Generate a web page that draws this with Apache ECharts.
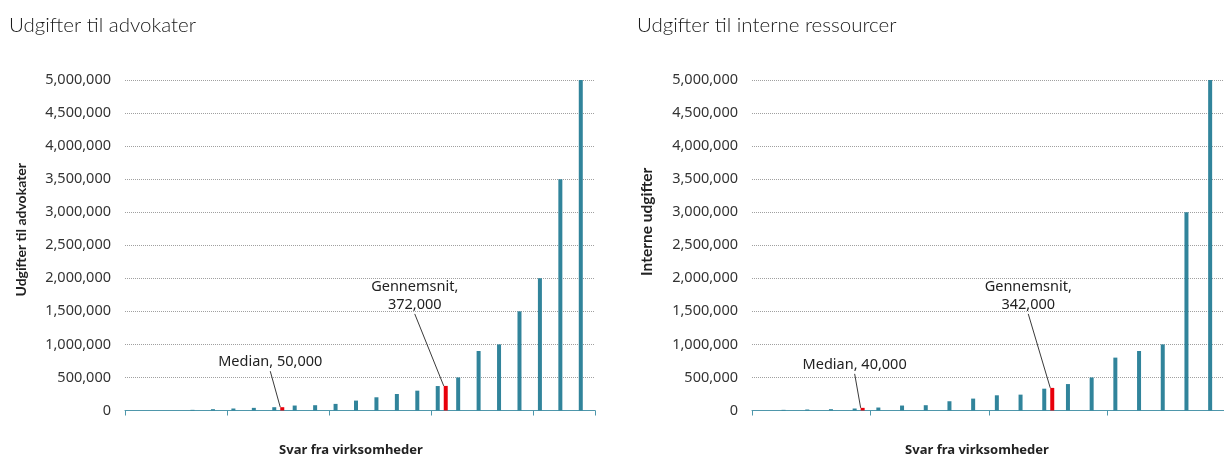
<!DOCTYPE html>
<html>
<head>
<meta charset="utf-8">
<script src="https://cdn.jsdelivr.net/npm/echarts@6/dist/echarts.min.js"></script>
<style>
html,body{margin:0;padding:0;background:#fff;}
#chart{width:1224px;height:455px;}
</style>
</head>
<body>
<div id="chart"></div>
<script>
// ---- data ----
const titleLeft = 'Udgifter til advokater';
const titleRight = 'Udgifter til interne ressourcer';
const yNameLeft = 'Udgifter til advokater';
const yNameRight = 'Interne udgifter';
const xName = 'Svar fra virksomheder';

const lawyerCategories = ['1','2','3','4','5','6','7','8','9','10','11','12','13','14','15','16','17','18','19','20','21','22','23'];
const lawyerValues = [0, 0, 0, 10000, 20000, 30000, 40000, 50000, 75000, 80000, 100000, 150000, 200000, 250000, 300000, 370000, 500000, 900000, 1000000, 1500000, 2000000, 3500000, 5000000];
const lawyerMedianIndex = 7, lawyerMedian = 50000;
const lawyerMeanIndex = 15, lawyerMean = 372000;

const internalCategories = ['1','2','3','4','5','6','7','8','9','10','11','12','13','14','15','16','17','18','19','20'];
const internalValues = [0, 10000, 15000, 20000, 30000, 45000, 75000, 80000, 140000, 180000, 230000, 240000, 330000, 400000, 500000, 800000, 900000, 1000000, 3000000, 5000000];
const internalMedianIndex = 4, internalMedian = 40000;
const internalMeanIndex = 12, internalMean = 342000;

const yTicks = [0, 500000, 1000000, 1500000, 2000000, 2500000, 3000000, 3500000, 4000000, 4500000, 5000000];

// ---- styling ----
const BLUE = '#31849B';
const RED = '#E8000B';
const AXIS = '#4F97AB';
const FONT = 'Noto Sans';
const fmt = v => v.toLocaleString('en-US');

function markerData(n, medIdx, medVal, meanIdx, meanVal) {
  const arr = new Array(n).fill(null);
  const lbl = {show: true, position: 'top', distance: 4, color: '#222', fontFamily: FONT, fontSize: 14.5, lineHeight: 18, align: 'center'};
  arr[medIdx] = {value: medVal, label: Object.assign({}, lbl, {formatter: 'Median, ' + fmt(medVal)})};
  arr[meanIdx] = {value: meanVal, label: Object.assign({}, lbl, {formatter: 'Gennemsnit,\n' + fmt(meanVal)})};
  return arr;
}

function xAxis(idx, cats, shift) {
  return {
    type: 'category', gridIndex: idx, data: cats,
    name: xName, nameLocation: 'middle', nameGap: 33,
    nameTextStyle: {fontFamily: FONT, fontSize: 13, fontWeight: 'bold', color: '#222', padding: [0, shift, 0, 0]},
    axisLine: {lineStyle: {color: AXIS, width: 1}},
    axisTick: {show: true, interval: 4, length: 5, lineStyle: {color: AXIS}},
    axisLabel: {show: false},
    splitLine: {show: false}
  };
}
function yAxis(idx, name, shift, size) {
  return {
    type: 'value', gridIndex: idx, min: 0, max: yTicks[yTicks.length - 1], interval: yTicks[1] - yTicks[0],
    name: name, nameLocation: 'middle', nameRotate: 90, nameGap: 97,
    nameTextStyle: {fontFamily: 'Lato', fontSize: size, fontWeight: 'bold', color: '#222', padding: [0, 0, 0, shift]},
    axisLine: {show: false}, axisTick: {show: false},
    axisLabel: {fontFamily: FONT, fontSize: 14.5, color: '#333', margin: 14, formatter: v => fmt(v)},
    splitLine: {lineStyle: {color: '#a0a0a0', type: [1, 1], width: 1}}
  };
}

const labelOffsets = {
  // [seriesIndex]: {dataIndex: [dx, dy]}
  1: {[lawyerMedianIndex]: [-12, -32], [lawyerMeanIndex]: [-31, -68]},
  3: {[internalMedianIndex]: [-8, -30], [internalMeanIndex]: [-24, -70]}
};

const option = {
  animation: false,
  backgroundColor: '#fff',
  title: [
    {text: titleLeft, left: 4, top: 10, textStyle: {fontFamily: 'Lato', fontWeight: 300, fontSize: 20.5, color: '#1a1a1a'}},
    {text: titleRight, left: 632, top: 10, textStyle: {fontFamily: 'Lato', fontWeight: 300, fontSize: 20.5, color: '#1a1a1a'}}
  ],
  grid: [
    {left: 125, top: 80, width: 470, height: 330.5, outerBoundsMode: 'none', containLabel: false},
    {left: 752, top: 80, width: 474, height: 330.5, outerBoundsMode: 'none', containLabel: false}
  ],
  xAxis: [xAxis(0, lawyerCategories, 18), xAxis(1, internalCategories, 24)],
  yAxis: [yAxis(0, yNameLeft, 31, 14), yAxis(1, yNameRight, 47, 15.5)],
  series: [
    {type: 'bar', xAxisIndex: 0, yAxisIndex: 0, data: lawyerValues, barWidth: 4, barGap: '100%', itemStyle: {color: BLUE}},
    {type: 'bar', xAxisIndex: 0, yAxisIndex: 0, data: markerData(lawyerCategories.length, lawyerMedianIndex, lawyerMedian, lawyerMeanIndex, lawyerMean),
      barWidth: 4, barGap: '100%', itemStyle: {color: RED},
      labelLine: {show: true, lineStyle: {color: '#3a3a3a', width: 1}},
      labelLayout: p => { const o = labelOffsets[1][p.dataIndex]; return o ? {dx: o[0], dy: o[1]} : {}; }},
    {type: 'bar', xAxisIndex: 1, yAxisIndex: 1, data: internalValues, barWidth: 4, barGap: '100%', itemStyle: {color: BLUE}},
    {type: 'bar', xAxisIndex: 1, yAxisIndex: 1, data: markerData(internalCategories.length, internalMedianIndex, internalMedian, internalMeanIndex, internalMean),
      barWidth: 4, barGap: '100%', itemStyle: {color: RED},
      labelLine: {show: true, lineStyle: {color: '#3a3a3a', width: 1}},
      labelLayout: p => { const o = labelOffsets[3][p.dataIndex]; return o ? {dx: o[0], dy: o[1]} : {}; }}
  ]
};

const chart = echarts.init(document.getElementById('chart'), null, {renderer: 'canvas'});
chart.setOption(option);
</script>
</body>
</html>
